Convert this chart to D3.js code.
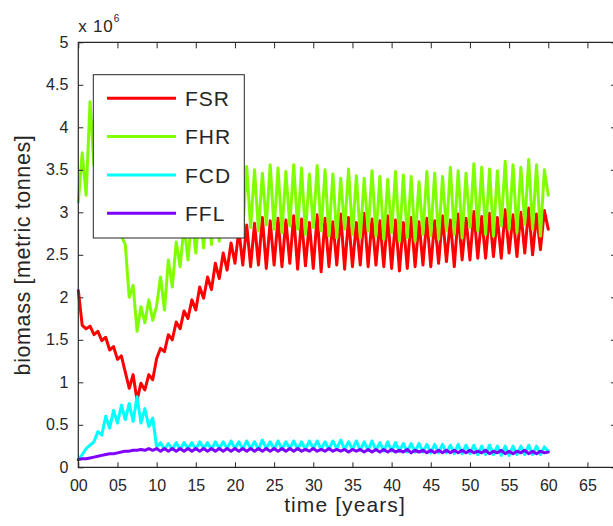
<!DOCTYPE html>
<html><head><meta charset="utf-8">
<script src="https://cdn.jsdelivr.net/npm/d3@7"></script>
<style>
html,body{margin:0;padding:0;background:#fff;}
svg{display:block;}
text{font-family:"Liberation Sans",Arial,Helvetica,sans-serif;fill:#262626;}
</style>
</head><body>
<svg id="chart" width="613" height="526"></svg>
<script>
// ---- data ----
const seriesNames = ["FSR", "FHR", "FCD", "FFL"];
const years = d3.range(0, 60.01, 0.5); // half-year samples, 0..60
const FSR = [2.08,1.67,1.63,1.66,1.56,1.60,1.49,1.53,1.38,1.42,
  1.27,1.31,1.12,0.93,1.09,0.79,0.99,0.91,1.09,1.03,
  1.28,1.40,1.36,1.56,1.50,1.71,1.63,1.84,1.75,1.97,
  1.85,2.12,1.99,2.24,2.09,2.40,2.22,2.52,2.32,2.64,
  2.40,2.79,2.38,2.85,2.36,2.87,2.38,2.94,2.34,2.90,
  2.38,2.93,2.36,2.91,2.40,2.96,2.33,2.92,2.37,2.88,
  2.34,2.97,2.30,2.93,2.36,2.89,2.38,2.98,2.33,2.94,
  2.36,2.88,2.38,2.99,2.36,2.92,2.38,2.90,2.36,2.96,
  2.34,2.91,2.31,2.88,2.34,2.94,2.36,2.89,2.38,2.93,
  2.36,2.90,2.40,2.96,2.42,2.91,2.36,2.98,2.44,2.93,
  2.44,3.01,2.46,2.95,2.46,2.99,2.48,2.94,2.46,3.03,
  2.52,2.97,2.48,3.00,2.52,3.05,2.50,2.98,2.56,3.02,
  2.80];
const FHR = [3.12,3.70,3.20,4.30,3.55,3.90,3.35,3.65,3.10,3.40,
  2.90,2.72,2.62,2.00,2.14,1.60,1.89,1.70,1.97,1.73,
  1.90,2.24,1.85,2.44,2.12,2.65,2.36,2.85,2.44,2.95,
  2.52,3.05,2.58,3.15,2.62,3.20,2.66,3.30,2.72,3.38,
  2.76,3.45,2.80,3.54,2.82,3.50,2.78,3.46,2.85,3.56,
  2.80,3.52,2.76,3.48,2.84,3.56,2.80,3.52,2.74,3.45,
  2.82,3.55,2.78,3.50,2.72,3.45,2.70,3.40,2.80,3.51,
  2.74,3.43,2.70,3.40,2.78,3.49,2.72,3.42,2.68,3.39,
  2.76,3.48,2.66,3.44,2.70,3.42,2.66,3.36,2.74,3.48,
  2.72,3.46,2.68,3.42,2.78,3.53,2.74,3.49,2.70,3.46,
  2.82,3.57,2.78,3.53,2.74,3.51,2.72,3.49,2.84,3.60,
  2.80,3.56,2.76,3.53,2.86,3.62,2.80,3.56,2.72,3.50,
  3.20];
const FCD = [0.09,0.15,0.22,0.26,0.30,0.42,0.38,0.60,0.46,0.67,
  0.52,0.73,0.56,0.75,0.54,0.83,0.52,0.69,0.48,0.58,
  0.24,0.29,0.21,0.28,0.21,0.29,0.21,0.29,0.22,0.29,
  0.21,0.30,0.22,0.29,0.21,0.30,0.22,0.30,0.22,0.31,
  0.22,0.30,0.21,0.31,0.22,0.30,0.21,0.32,0.22,0.30,
  0.21,0.31,0.21,0.30,0.22,0.31,0.21,0.30,0.21,0.31,
  0.22,0.31,0.21,0.30,0.21,0.31,0.22,0.32,0.21,0.30,
  0.21,0.31,0.20,0.30,0.20,0.31,0.20,0.29,0.19,0.30,
  0.19,0.29,0.19,0.28,0.18,0.28,0.18,0.28,0.18,0.27,
  0.17,0.27,0.17,0.27,0.17,0.26,0.16,0.27,0.16,0.26,
  0.16,0.26,0.15,0.25,0.15,0.26,0.15,0.25,0.14,0.25,
  0.14,0.25,0.15,0.25,0.15,0.26,0.15,0.25,0.15,0.24,
  0.19];
const FFL = [0.09,0.10,0.10,0.11,0.12,0.13,0.14,0.15,0.16,0.16,
  0.17,0.18,0.19,0.19,0.20,0.20,0.21,0.20,0.22,0.20,
  0.22,0.19,0.22,0.19,0.22,0.19,0.22,0.19,0.22,0.19,
  0.22,0.19,0.22,0.19,0.22,0.19,0.22,0.19,0.22,0.19,
  0.22,0.19,0.22,0.19,0.22,0.19,0.22,0.19,0.22,0.19,
  0.22,0.19,0.22,0.19,0.22,0.19,0.22,0.19,0.21,0.19,
  0.22,0.19,0.21,0.19,0.22,0.19,0.21,0.19,0.21,0.18,
  0.21,0.19,0.21,0.18,0.21,0.18,0.21,0.18,0.21,0.18,
  0.21,0.18,0.20,0.18,0.21,0.17,0.20,0.18,0.20,0.17,
  0.20,0.17,0.20,0.17,0.20,0.17,0.20,0.17,0.20,0.17,
  0.20,0.17,0.19,0.17,0.20,0.16,0.19,0.17,0.20,0.16,
  0.19,0.16,0.19,0.17,0.20,0.16,0.19,0.16,0.19,0.17,
  0.18];
const xTickValues = [0,5,10,15,20,25,30,35,40,45,50,55,60,65];
const xTickLabels = ["00","05","10","15","20","25","30","35","40","45","50","55","60","65"];
const yTickValues = [0,0.5,1,1.5,2,2.5,3,3.5,4,4.5,5];
const yTickLabels = ["0","0.5","1","1.5","2","2.5","3","3.5","4","4.5","5"];

// ---- styles / layout ----
const colors = ["#ff0000", "#80ff00", "#00ffff", "#8000ff"];
const axisColor = "#262626";
const mLeft = 78.3, mTop = 42.3, mBottom = 467.3, frameRight = 617;

const svg = d3.select("#chart");
const x = d3.scaleLinear().domain([0, 70]).range([mLeft, 626.6]);
const y = d3.scaleLinear().domain([0, 5]).range([mBottom, mTop]);

// series lines
const allSeries = [FSR, FHR, FCD, FFL];
const line = d3.line().x((d, i) => x(years[i])).y(d => y(d));
const plot = svg.append("g");
allSeries.forEach((vals, k) => {
  plot.append("path")
    .datum(vals)
    .attr("d", line)
    .attr("fill", "none")
    .attr("stroke", colors[k])
    .attr("stroke-width", 3)
    .attr("stroke-linejoin", "round")
    .attr("stroke-linecap", "round");
});

// axes
function styleAxis(g) {
  g.select(".domain").remove();
  g.selectAll(".tick line").attr("stroke", axisColor).attr("stroke-width", 1);
  g.selectAll(".tick text").attr("fill", axisColor)
    .style("font-size", "16px");
}
svg.append("g").attr("transform", `translate(0,${mBottom})`)
  .call(d3.axisBottom(x).tickValues(xTickValues)
    .tickFormat((d, i) => xTickLabels[i]).tickSizeInner(-5).tickSizeOuter(0).tickPadding(12))
  .call(styleAxis);
svg.append("g").attr("transform", `translate(0,${mTop})`)
  .call(d3.axisTop(x).tickValues(xTickValues).tickFormat("").tickSizeInner(-6).tickSizeOuter(0))
  .call(styleAxis);
svg.append("g").attr("transform", `translate(${mLeft},0)`)
  .call(d3.axisLeft(y).tickValues(yTickValues)
    .tickFormat((d, i) => yTickLabels[i]).tickSizeInner(-5).tickSizeOuter(0).tickPadding(10))
  .call(styleAxis);
svg.append("g").attr("transform", `translate(${frameRight},0)`)
  .call(d3.axisRight(y).tickValues(yTickValues).tickFormat("").tickSizeInner(-6).tickSizeOuter(0))
  .call(styleAxis);

// frame
svg.append("path")
  .attr("d", `M${frameRight},${mTop}H${mLeft}V${mBottom}H${frameRight}`)
  .attr("fill", "none").attr("stroke", axisColor).attr("stroke-width", 1.2);

// exponent label
const ex = svg.append("text").attr("x", mLeft).attr("y", 31.7)
  .style("font-size", "17px").style("letter-spacing", "0.8px");
ex.append("tspan").text("x 10");
ex.append("tspan").attr("dy", -10).style("font-size", "10px").text("6");

// axis titles
svg.append("text").attr("x", 345).attr("y", 512).attr("text-anchor", "middle")
  .style("font-size", "21px").style("letter-spacing", "1.1px").text("time [years]");
svg.append("text").attr("transform", "translate(30,255) rotate(-90)")
  .attr("text-anchor", "middle").style("font-size", "21.5px").style("letter-spacing", "0.6px")
  .text("biomass [metric tonnes]");

// legend
const lg = svg.append("g");
lg.append("rect").attr("x", 93.3).attr("y", 74.7).attr("width", 151).attr("height", 163.3)
  .attr("fill", "#fff").attr("stroke", axisColor).attr("stroke-width", 1);
seriesNames.forEach((name, k) => {
  const ly = 98.3 + k * 38.3;
  lg.append("line").attr("x1", 107).attr("x2", 176).attr("y1", ly).attr("y2", ly)
    .attr("stroke", colors[k]).attr("stroke-width", 3);
  lg.append("text").attr("x", 185).attr("y", ly + 7.7).style("font-size", "21px")
    .style("letter-spacing", "1px").text(name);
});
</script>
</body></html>
